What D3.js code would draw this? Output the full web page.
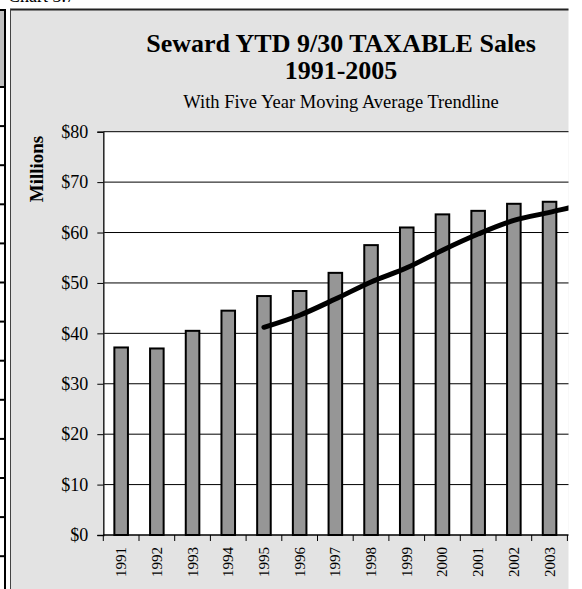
<!DOCTYPE html>
<html>
<head>
<meta charset="utf-8">
<script src="https://cdn.jsdelivr.net/npm/d3@7"></script>
<style>
  body { margin: 0; background: #fff; }
  svg { display: block; font-family: "Liberation Serif", "Times New Roman", serif; }
</style>
</head>
<body>
<svg id="chart"></svg>
<script>
// data
const years = ["1991", "1992", "1993", "1994", "1995", "1996", "1997", "1998",
               "1999", "2000", "2001", "2002", "2003", "2004", "2005"];
const sales = [37.2, 37.0, 40.5, 44.5, 47.4, 48.4, 52.0, 57.5,
               61.0, 63.6, 64.3, 65.7, 66.1, 68.5, 71.0];
// five year moving average trendline (first four years have no point)
const trend = [null, null, null, null, 41.2, 43.6, 46.8, 50.2,
               53.0, 56.5, 59.7, 62.4, 64.0, 65.6, 67.0];
const yTicks = [0, 10, 20, 30, 40, 50, 60, 70, 80];

const width = 582, height = 589;
const svg = d3.select("#chart").attr("width", width).attr("height", height);

// bits of the surrounding document
svg.append("text")
  .attr("x", 8).attr("y", 2)
  .attr("font-size", 18)
  .text("Chart 3.7");

svg.append("rect")
  .attr("x", 0).attr("y", 10).attr("width", 4.5).attr("height", 77)
  .attr("fill", "#c0c0c0");
svg.append("line")
  .attr("x1", 5).attr("x2", 5).attr("y1", 9).attr("y2", height)
  .attr("stroke", "#000").attr("stroke-width", 2);
const rowLines = [10].concat(d3.range(87, height, 39.1));
svg.selectAll(".row")
  .data(rowLines)
  .enter().append("line")
  .attr("x1", 0).attr("x2", 6)
  .attr("y1", d => d).attr("y2", d => d)
  .attr("stroke", "#000").attr("stroke-width", 2);

// chart object, cut off on the right
svg.append("clipPath").attr("id", "cut")
  .append("rect").attr("x", 0).attr("y", 0).attr("width", 568.5).attr("height", height);

const chart = svg.append("g").attr("clip-path", "url(#cut)");

chart.append("rect")
  .attr("x", 10).attr("y", 9).attr("width", 700).attr("height", 620)
  .attr("fill", "#e3e3e3");
chart.append("line")
  .attr("x1", 10).attr("x2", 700).attr("y1", 9.5).attr("y2", 9.5)
  .attr("stroke", "#222").attr("stroke-width", 2);
chart.append("line")
  .attr("x1", 10.5).attr("x2", 10.5).attr("y1", 9).attr("y2", height)
  .attr("stroke", "#444").attr("stroke-width", 1);

// titles
const titleX = 341;
chart.append("text")
  .attr("x", titleX).attr("y", 52)
  .attr("text-anchor", "middle")
  .attr("font-size", 26).attr("font-weight", "bold")
  .text("Seward YTD 9/30 TAXABLE Sales");
chart.append("text")
  .attr("x", titleX).attr("y", 79)
  .attr("text-anchor", "middle")
  .attr("font-size", 26).attr("font-weight", "bold")
  .text("1991-2005");
chart.append("text")
  .attr("x", titleX).attr("y", 108)
  .attr("text-anchor", "middle")
  .attr("font-size", 18.5)
  .text("With Five Year Moving Average Trendline");

chart.append("text")
  .attr("transform", "translate(43,169) rotate(-90)")
  .attr("text-anchor", "middle")
  .attr("font-size", 19).attr("font-weight", "bold")
  .text("Millions");

// scales
const plot = { left: 103.3, right: 638.8, top: 131.7, bottom: 535 };

const x = d3.scaleBand()
  .domain(years)
  .range([plot.left, plot.right])
  .padding(0);

const y = d3.scaleLinear()
  .domain([0, 80])
  .range([plot.bottom, plot.top]);

chart.append("rect")
  .attr("x", plot.left).attr("y", plot.top)
  .attr("width", plot.right - plot.left).attr("height", plot.bottom - plot.top)
  .attr("fill", "#fff");

// gridlines
chart.selectAll(".grid")
  .data(yTicks.filter(d => d > 0))
  .enter().append("line")
  .attr("x1", plot.left).attr("x2", plot.right)
  .attr("y1", d => y(d)).attr("y2", d => y(d))
  .attr("stroke", "#000").attr("stroke-width", 1);

// bars
const barW = x.bandwidth() * 0.38;
chart.selectAll(".bar")
  .data(sales)
  .enter().append("rect")
  .attr("x", (d, i) => x(years[i]) + x.bandwidth() / 2 - barW / 2)
  .attr("y", d => y(d))
  .attr("width", barW)
  .attr("height", d => y(0) - y(d))
  .attr("fill", "#969696")
  .attr("stroke", "#000")
  .attr("stroke-width", 2);

// y axis
const yAxis = chart.append("g")
  .attr("transform", `translate(${plot.left},0)`)
  .call(d3.axisLeft(y).tickValues(yTicks).tickSize(6).tickPadding(9)
    .tickFormat(d => "$" + d));
yAxis.select(".domain").attr("stroke", "#222").attr("stroke-width", 1.5);
yAxis.selectAll(".tick line").attr("stroke", "#000");
yAxis.selectAll("text")
  .attr("font-family", "Liberation Serif, Times New Roman, serif")
  .attr("font-size", 18).attr("fill", "#000");

// x axis: ticks on category boundaries
const xAxis = chart.append("g");
xAxis.append("line")
  .attr("x1", plot.left).attr("x2", plot.right)
  .attr("y1", plot.bottom).attr("y2", plot.bottom)
  .attr("stroke", "#000").attr("stroke-width", 1.5);
xAxis.selectAll(".xt")
  .data(years.concat(["end"]))
  .enter().append("line")
  .attr("x1", (d, i) => plot.left + i * x.step())
  .attr("x2", (d, i) => plot.left + i * x.step())
  .attr("y1", plot.bottom).attr("y2", plot.bottom + 6)
  .attr("stroke", "#000").attr("stroke-width", 1);
xAxis.selectAll(".xl")
  .data(years)
  .enter().append("text")
  .attr("transform", d => `translate(${x(d) + x.bandwidth() / 2 + 5},547) rotate(-90)`)
  .attr("text-anchor", "end")
  .attr("font-size", 15)
  .text(d => d);

// moving average trendline
const line = d3.line()
  .defined(d => d != null)
  .x((d, i) => x(years[i]) + x.bandwidth() / 2)
  .y(d => y(d))
  .curve(d3.curveCatmullRom.alpha(0.5));

chart.append("path")
  .datum(trend)
  .attr("d", line)
  .attr("fill", "none")
  .attr("stroke", "#000")
  .attr("stroke-width", 5)
  .attr("stroke-linecap", "round");
</script>
</body>
</html>
